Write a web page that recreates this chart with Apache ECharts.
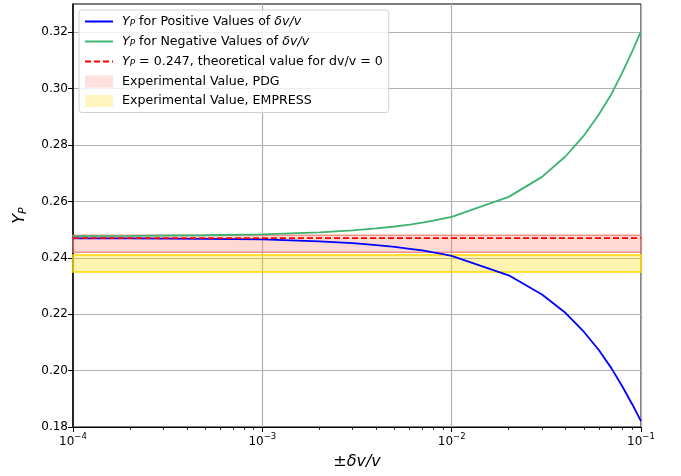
<!DOCTYPE html>
<html><head><meta charset="utf-8">
<script src="https://cdn.jsdelivr.net/npm/echarts@6/dist/echarts.min.js"></script>
<style>html,body{margin:0;padding:0;background:#fff}#c{width:681px;height:476px}</style>
</head><body><div id="c"></div>
<script>
// ---- data ----
const xValues = [0.0001, 0.0002, 0.0005, 0.001, 0.002, 0.003, 0.004, 0.005, 0.006, 0.007, 0.008, 0.009,
                 0.01, 0.02, 0.03, 0.04, 0.05, 0.06, 0.07, 0.08, 0.09, 0.1];
const positiveY = [0.2469, 0.2469, 0.2467, 0.2465, 0.2458, 0.2452, 0.2445, 0.2439, 0.2432, 0.2426, 0.2419, 0.2413,
                   0.2407, 0.2338, 0.2270, 0.2204, 0.2137, 0.2072, 0.2007, 0.1942, 0.1880, 0.1821];
const negativeY = [0.2477, 0.2478, 0.2480, 0.2483, 0.2490, 0.2497, 0.2504, 0.2511, 0.2518, 0.2525, 0.2532, 0.2539,
                   0.2545, 0.2616, 0.2687, 0.2760, 0.2834, 0.2909, 0.2982, 0.3059, 0.3133, 0.3203];
const theoryY = 0.247;
const pdgBand = [0.242, 0.248];
const empressBand = [0.235, 0.241];
const xTickValues = [0.0001, 0.001, 0.01, 0.1];
const xTickExponents = ['−4', '−3', '−2', '−1'];
const yTickValues = [0.18, 0.20, 0.22, 0.24, 0.26, 0.28, 0.30, 0.32];
const yTickLabels = ['0.18', '0.20', '0.22', '0.24', '0.26', '0.28', '0.30', '0.32'];
const seriesNames = [
  'Y_P for Positive Values of δv/v',
  'Y_P for Negative Values of δv/v',
  'Y_P = 0.247, theoretical value for dv/v = 0',
  'Experimental Value, PDG',
  'Experimental Value, EMPRESS'
];
const legendRich = [
  '{y|Y}{sub|P}{t| for Positive Values of }{y|δv/v}',
  '{y|Y}{sub|P}{t| for Negative Values of }{y|δv/v}',
  '{y|Y}{sub|P}{t| = 0.247, theoretical value for dv/v = 0}',
  '{t|Experimental Value, PDG}',
  '{t|Experimental Value, EMPRESS}'
];
// ---- end data ----

const FONT = 'DejaVu Sans';
const LF = 12.6;
const minorTicks = [];
for (let e = -4; e <= -2; e++) for (let m = 2; m <= 9; m++) minorTicks.push(+(m * Math.pow(10, e)).toPrecision(3));

const pos = xValues.map((x, i) => [x, positiveY[i]]);
const neg = xValues.map((x, i) => [x, negativeY[i]]);
const theory = [[xValues[0], theoryY], [xValues[xValues.length - 1], theoryY]];

const chart = echarts.init(document.getElementById('c'), null, {renderer: 'canvas'});
chart.setOption({
  animation: false,
  backgroundColor: '#fff',
  textStyle: {fontFamily: FONT},
  grid: {left: 73, right: 40, top: 4, bottom: 49, show: true, borderColor: '#000', borderWidth: 1, backgroundColor: 'transparent'},
  legend: {
    left: 79, top: 10, orient: 'vertical',
    itemWidth: 28, itemHeight: 12, itemGap: 6.5,
    padding: [5, 6, 5, 5],
    borderColor: '#d0d0d0', borderWidth: 1, borderRadius: 3,
    backgroundColor: 'rgba(255,255,255,0.8)',
    data: [
      {name: seriesNames[0], itemStyle: {opacity: 0}},
      {name: seriesNames[1], itemStyle: {opacity: 0}},
      {name: seriesNames[2], itemStyle: {opacity: 0}},
      {name: seriesNames[3], icon: 'rect'},
      {name: seriesNames[4], icon: 'rect'}
    ],
    formatter: function (name) { return legendRich[seriesNames.indexOf(name)]; },
    textStyle: {
      fontFamily: FONT, fontSize: LF, color: '#000', padding: [0, 0, 0, 4],
      rich: {
        t: {fontFamily: FONT, fontSize: LF, color: '#000', lineHeight: 14},
        y: {fontFamily: FONT, fontSize: LF, fontStyle: 'italic', color: '#000', lineHeight: 14},
        sub: {fontFamily: FONT, fontSize: 9, fontStyle: 'italic', color: '#000', lineHeight: 8, verticalAlign: 'bottom'}
      }
    }
  },
  xAxis: [{
    type: 'log', logBase: 10, min: xTickValues[0], max: xTickValues[xTickValues.length - 1],
    name: '{n|±}{i|δv/v}', nameLocation: 'middle', nameGap: 27,
    nameTextStyle: {
      rich: {
        n: {fontFamily: FONT, fontSize: 16, color: '#000'},
        i: {fontFamily: FONT, fontSize: 16, fontStyle: 'italic', color: '#000'}
      }
    },
    axisLine: {show: true, lineStyle: {color: '#000', width: 1}},
    axisTick: {show: true, inside: false, length: 5, lineStyle: {color: '#000'}, customValues: xTickValues},
    axisLabel: {
      customValues: xTickValues, margin: 5,
      formatter: function (v) {
        const i = xTickValues.findIndex(t => Math.abs(Math.log10(t) - Math.log10(v)) < 1e-6);
        return '{b|10}{s|' + (i >= 0 ? xTickExponents[i] : '') + '}';
      },
      rich: {
        b: {fontFamily: FONT, fontSize: 12, color: '#000', lineHeight: 16, verticalAlign: 'bottom'},
        s: {fontFamily: FONT, fontSize: 8.5, color: '#000', lineHeight: 9, verticalAlign: 'top'}
      }
    },
    splitLine: {show: true, lineStyle: {color: '#b0b0b0', width: 1.2}}
  }, {
    type: 'log', logBase: 10, min: xTickValues[0], max: xTickValues[xTickValues.length - 1],
    position: 'bottom', gridIndex: 0,
    axisLine: {show: false},
    axisTick: {show: true, length: 3, lineStyle: {color: '#000', width: 0.8}, customValues: minorTicks},
    axisLabel: {show: false},
    splitLine: {show: false}
  }],
  yAxis: {
    type: 'value', min: 0.18, max: 0.33, interval: 0.02,
    name: '{y|Y}{sub|P}', nameLocation: 'middle', nameGap: 44, nameRotate: 90,
    nameTextStyle: {
      rich: {
        y: {fontFamily: FONT, fontSize: 16, fontStyle: 'italic', color: '#000', lineHeight: 18},
        sub: {fontFamily: FONT, fontSize: 11, fontStyle: 'italic', color: '#000', lineHeight: 11, verticalAlign: 'bottom'}
      }
    },
    axisLine: {show: true, lineStyle: {color: '#000', width: 1.5}},
    axisTick: {show: true, length: 5, lineStyle: {color: '#000'}, customValues: yTickValues},
    axisLabel: {
      customValues: yTickValues, margin: 5, fontFamily: FONT, fontSize: 12, color: '#000',
      formatter: function (v) {
        const i = yTickValues.findIndex(t => Math.abs(t - v) < 1e-9);
        return i >= 0 ? yTickLabels[i] : '';
      }
    },
    splitLine: {show: true, lineStyle: {color: '#b0b0b0', width: 1.2}}
  },
  series: [
    {
      name: seriesNames[3], type: 'scatter', data: [], z: 1,
      itemStyle: {color: 'rgba(250,128,114,0.3)'},
      markArea: {
        silent: true,
        itemStyle: {color: 'rgba(250,128,114,0.3)', borderColor: 'rgba(240,120,110,0.75)', borderWidth: 1.5},
        data: [[{yAxis: pdgBand[0]}, {yAxis: pdgBand[1]}]]
      }
    },
    {
      name: seriesNames[4], type: 'scatter', data: [], z: 1,
      itemStyle: {color: 'rgba(255,215,0,0.3)'},
      markArea: {
        silent: true,
        itemStyle: {color: 'rgba(255,215,0,0.3)', borderColor: 'rgba(255,215,0,1)', borderWidth: 1.5},
        data: [[{yAxis: empressBand[0]}, {yAxis: empressBand[1]}]]
      }
    },
    {
      name: seriesNames[0], type: 'line', data: pos, symbol: 'none', z: 5,
      lineStyle: {color: '#0000ff', width: 1.8}, itemStyle: {color: '#0000ff'}
    },
    {
      name: seriesNames[1], type: 'line', data: neg, symbol: 'none', z: 5,
      lineStyle: {color: '#3cb371', width: 1.8}, itemStyle: {color: '#3cb371'}
    },
    {
      name: seriesNames[2], type: 'line', data: theory, symbol: 'none', z: 6,
      lineStyle: {color: '#ff0000', width: 1.8, type: [6, 3]}, itemStyle: {color: '#ff0000'}
    }
  ]
});
</script>
</body></html>
